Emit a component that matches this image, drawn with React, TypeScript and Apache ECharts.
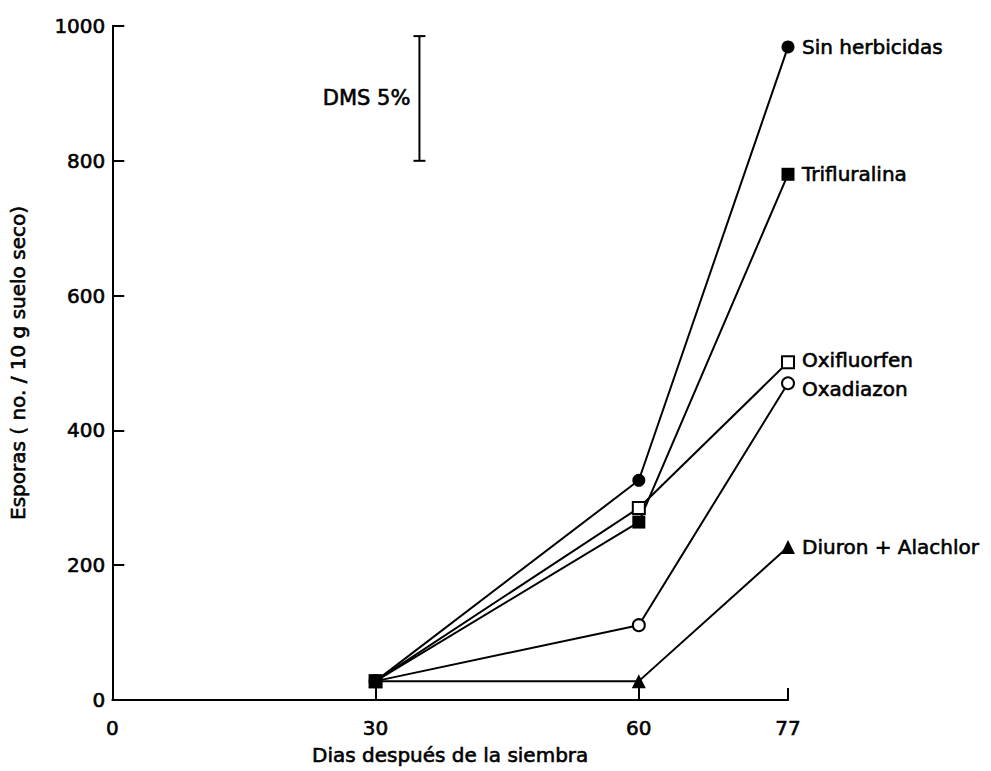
import React, { useEffect, useRef } from "react";
import * as echarts from "echarts";

const days = [30, 60, 77];
const sinHerbicidas = [28, 326, 969];
const trifluralina = [28, 264, 780];
const oxifluorfen = [28, 285, 501];
const oxadiazon = [28, 111, 470];
const diuronAlachlor = [28, 28, 227];

const xTickValues = [30, 60, 77];
const xLabelValues = [0, 30, 60, 77];
const yMin = 0;
const yMax = 1000;
const yInterval = 200;

const dmsDay = 35;
const dmsRange = [800, 985];
const dmsText = "DMS 5%";

const xTitle = "Dias después de la siembra";
const yTitle = "Esporas ( no. / 10 g suelo seco)";

const FONT = "DejaVu Sans";
const THICK = { textBorderColor: "#000", textBorderWidth: 0.6 };

function pts(vals: number[]) {
  return vals.map((v, i) => [days[i], v]);
}

export default function App() {
  const ref = useRef<HTMLDivElement>(null);
  useEffect(() => {
    const chart = echarts.init(ref.current!, null, { renderer: "svg" });
    const lineStyle = { color: "#000", width: 2 };
    const mkSeries = (
      name: string,
      vals: number[],
      symbol: string,
      size: number,
      filled: boolean,
      labelOffset: number[] = [0, 0]
    ) => ({
      type: "line",
      name,
      data: pts(vals),
      symbol,
      symbolSize: size,
      showAllSymbol: true,
      lineStyle,
      itemStyle: {
        color: filled ? "#000" : "#fff",
        borderColor: "#000",
        borderWidth: filled ? 0 : 2,
      },
      endLabel: {
        show: true,
        formatter: "{a}",
        color: "#000",
        fontFamily: FONT,
        fontSize: 20,
        distance: 14,
        offset: labelOffset,
        ...THICK,
      },
      emphasis: { disabled: true },
      z: 3,
    });

    chart.setOption({
      animation: false,
      textStyle: { fontFamily: FONT, color: "#000" },
      grid: { left: 112, right: 203, top: 26, bottom: 71, containLabel: false },
      xAxis: {
        type: "value",
        min: 0,
        max: 77,
        name: xTitle,
        nameLocation: "middle",
        nameGap: 45,
        nameTextStyle: { fontSize: 20, color: "#000", fontFamily: FONT, ...THICK },
        axisLine: { show: true, lineStyle: { color: "#000", width: 2 } },
        axisTick: {
          show: true,
          inside: true,
          length: 12,
          customValues: xTickValues,
          lineStyle: { color: "#000", width: 2 },
        },
        axisLabel: {
          customValues: xLabelValues,
          color: "#000",
          fontSize: 20,
          margin: 18,
          fontFamily: FONT,
          formatter: (v: number) => String(v),
          ...THICK,
        },
        splitLine: { show: false },
      },
      yAxis: {
        type: "value",
        min: yMin,
        max: yMax,
        interval: yInterval,
        name: yTitle,
        nameLocation: "middle",
        nameRotate: 90,
        nameGap: 84,
        nameTextStyle: { fontSize: 20, color: "#000", fontFamily: FONT, ...THICK },
        axisLine: { show: true, lineStyle: { color: "#000", width: 2 } },
        axisTick: {
          show: true,
          inside: true,
          length: 12,
          lineStyle: { color: "#000", width: 2 },
        },
        axisLabel: {
          color: "#000",
          fontSize: 20,
          margin: 7,
          fontFamily: FONT,
          formatter: (v: number) => String(v),
          ...THICK,
        },
        splitLine: { show: false },
      },
      series: [
        mkSeries("Sin herbicidas", sinHerbicidas, "circle", 13, true),
        mkSeries("Oxifluorfen", oxifluorfen, "rect", 12, false, [0, -2]),
        mkSeries("Oxadiazon", oxadiazon, "circle", 12, false, [0, 6]),
        mkSeries("Diuron + Alachlor", diuronAlachlor, "triangle", 14, true),
        mkSeries("Trifluralina", trifluralina, "rect", 13, true),
        {
          type: "custom",
          name: "DMS",
          data: [[dmsDay, dmsRange[0], dmsRange[1]]],
          renderItem: (params: any, api: any) => {
            const lo = api.coord([api.value(0), api.value(1)]);
            const hi = api.coord([api.value(0), api.value(2)]);
            const cap = 6;
            const st = { stroke: "#000", lineWidth: 2 };
            return {
              type: "group",
              children: [
                { type: "line", shape: { x1: lo[0], y1: lo[1], x2: hi[0], y2: hi[1] }, style: st },
                { type: "line", shape: { x1: lo[0] - cap, y1: lo[1], x2: lo[0] + cap, y2: lo[1] }, style: st },
                { type: "line", shape: { x1: hi[0] - cap, y1: hi[1], x2: hi[0] + cap, y2: hi[1] }, style: st },
                {
                  type: "text",
                  style: {
                    text: dmsText,
                    x: lo[0] - 9,
                    y: (lo[1] + hi[1]) / 2,
                    align: "right",
                    verticalAlign: "middle",
                    fontSize: 21,
                    fontFamily: FONT,
                    fill: "#000",
                    stroke: "#000",
                    lineWidth: 0.6,
                  },
                },
              ],
            };
          },
          z: 2,
        },
      ],
    });
    return () => chart.dispose();
  }, []);
  return (
    <div
      ref={ref}
      style={{ position: "fixed", left: 0, top: 0, width: 991, height: 771, background: "#fff" }}
    />
  );
}
